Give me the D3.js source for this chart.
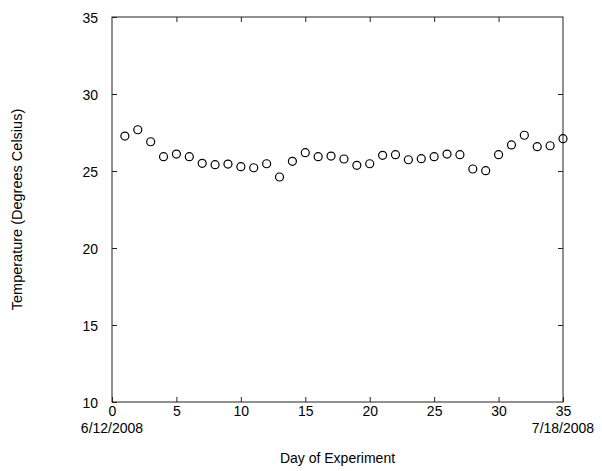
<!DOCTYPE html>
<html>
<head>
<meta charset="utf-8">
<script src="https://cdn.jsdelivr.net/npm/d3@7"></script>
<style>
  html, body { margin: 0; padding: 0; background: #fff; }
  svg { display: block; }
  text { font-family: "Liberation Sans", Arial, sans-serif; fill: #000; }
</style>
</head>
<body>
<svg id="chart" width="602" height="471"></svg>
<script>
const days = [1,2,3,4,5,6,7,8,9,10,11,12,13,14,15,16,17,18,19,20,21,22,23,24,25,26,27,28,29,30,31,32,33,34,35];
const temps = [27.27,27.68,26.90,25.93,26.10,25.93,25.50,25.41,25.45,25.28,25.21,25.47,24.61,25.63,26.19,25.93,25.97,25.78,25.37,25.47,26.02,26.06,25.73,25.80,25.93,26.10,26.06,25.13,25.02,26.06,26.69,27.32,26.58,26.64,27.10];
const xTicks = [0,5,10,15,20,25,30,35];
const yTicks = [10,15,20,25,30,35];
const xDateLabels = [{day: 0, label: "6/12/2008"}, {day: 35, label: "7/18/2008"}];
const xTitle = "Day of Experiment";
const yTitle = "Temperature (Degrees Celsius)";

const svg = d3.select("#chart");
const mLeft = 112, mRight = 563, mTop = 17, mBottom = 402;
const x = d3.scaleLinear().domain([0,35]).range([mLeft, mRight]);
const y = d3.scaleLinear().domain([10,35]).range([mBottom, mTop]);
const tickLen = 5;
const axisColor = "#222";
const fs = "14px";

svg.append("rect").attr("x", mLeft).attr("y", mTop)
  .attr("width", mRight-mLeft).attr("height", mBottom-mTop)
  .attr("fill", "none").attr("stroke", axisColor).attr("stroke-width", 1);

const gx = svg.append("g").attr("transform", `translate(0,${mBottom})`)
  .call(d3.axisBottom(x).tickValues(xTicks).tickSizeInner(-tickLen).tickSizeOuter(0).tickPadding(4));
const gxTop = svg.append("g").attr("transform", `translate(0,${mTop})`)
  .call(d3.axisTop(x).tickValues(xTicks.slice(1,-1)).tickSize(-tickLen).tickFormat(""));
const gy = svg.append("g").attr("transform", `translate(${mLeft},0)`)
  .call(d3.axisLeft(y).tickValues(yTicks).tickSizeInner(-tickLen).tickSizeOuter(0).tickPadding(14));
const gyR = svg.append("g").attr("transform", `translate(${mRight},0)`)
  .call(d3.axisRight(y).tickValues(yTicks.slice(1,-1)).tickSize(-tickLen).tickFormat(""));

[gx, gxTop, gy, gyR].forEach(g => {
  g.select(".domain").remove();
  g.selectAll(".tick line").attr("stroke", axisColor);
  g.selectAll("text").style("font-family", "'Liberation Sans', Arial, sans-serif").style("font-size", fs).attr("fill", "#000");
});
gy.selectAll("text").attr("dy", "0.36em");

svg.selectAll("text.date").data(xDateLabels).enter().append("text")
  .attr("class", "date")
  .attr("x", d => x(d.day)).attr("y", mBottom + 31)
  .attr("text-anchor", "middle").style("font-size", fs)
  .text(d => d.label);

svg.append("text").attr("x", (mLeft+mRight)/2).attr("y", 463)
  .attr("text-anchor", "middle").style("font-size", fs).text(xTitle);
svg.append("text").attr("transform", `translate(22,${(mTop+mBottom)/2}) rotate(-90)`)
  .attr("text-anchor", "middle").style("font-size", "14.5px").text(yTitle);

svg.append("g").selectAll("circle").data(days.map((d,i)=>({d, t: temps[i]})))
  .enter().append("circle")
  .attr("cx", p => x(p.d)).attr("cy", p => y(p.t)).attr("r", 4)
  .attr("fill", "none").attr("stroke", "#000").attr("stroke-width", 1.2);
</script>
</body>
</html>
